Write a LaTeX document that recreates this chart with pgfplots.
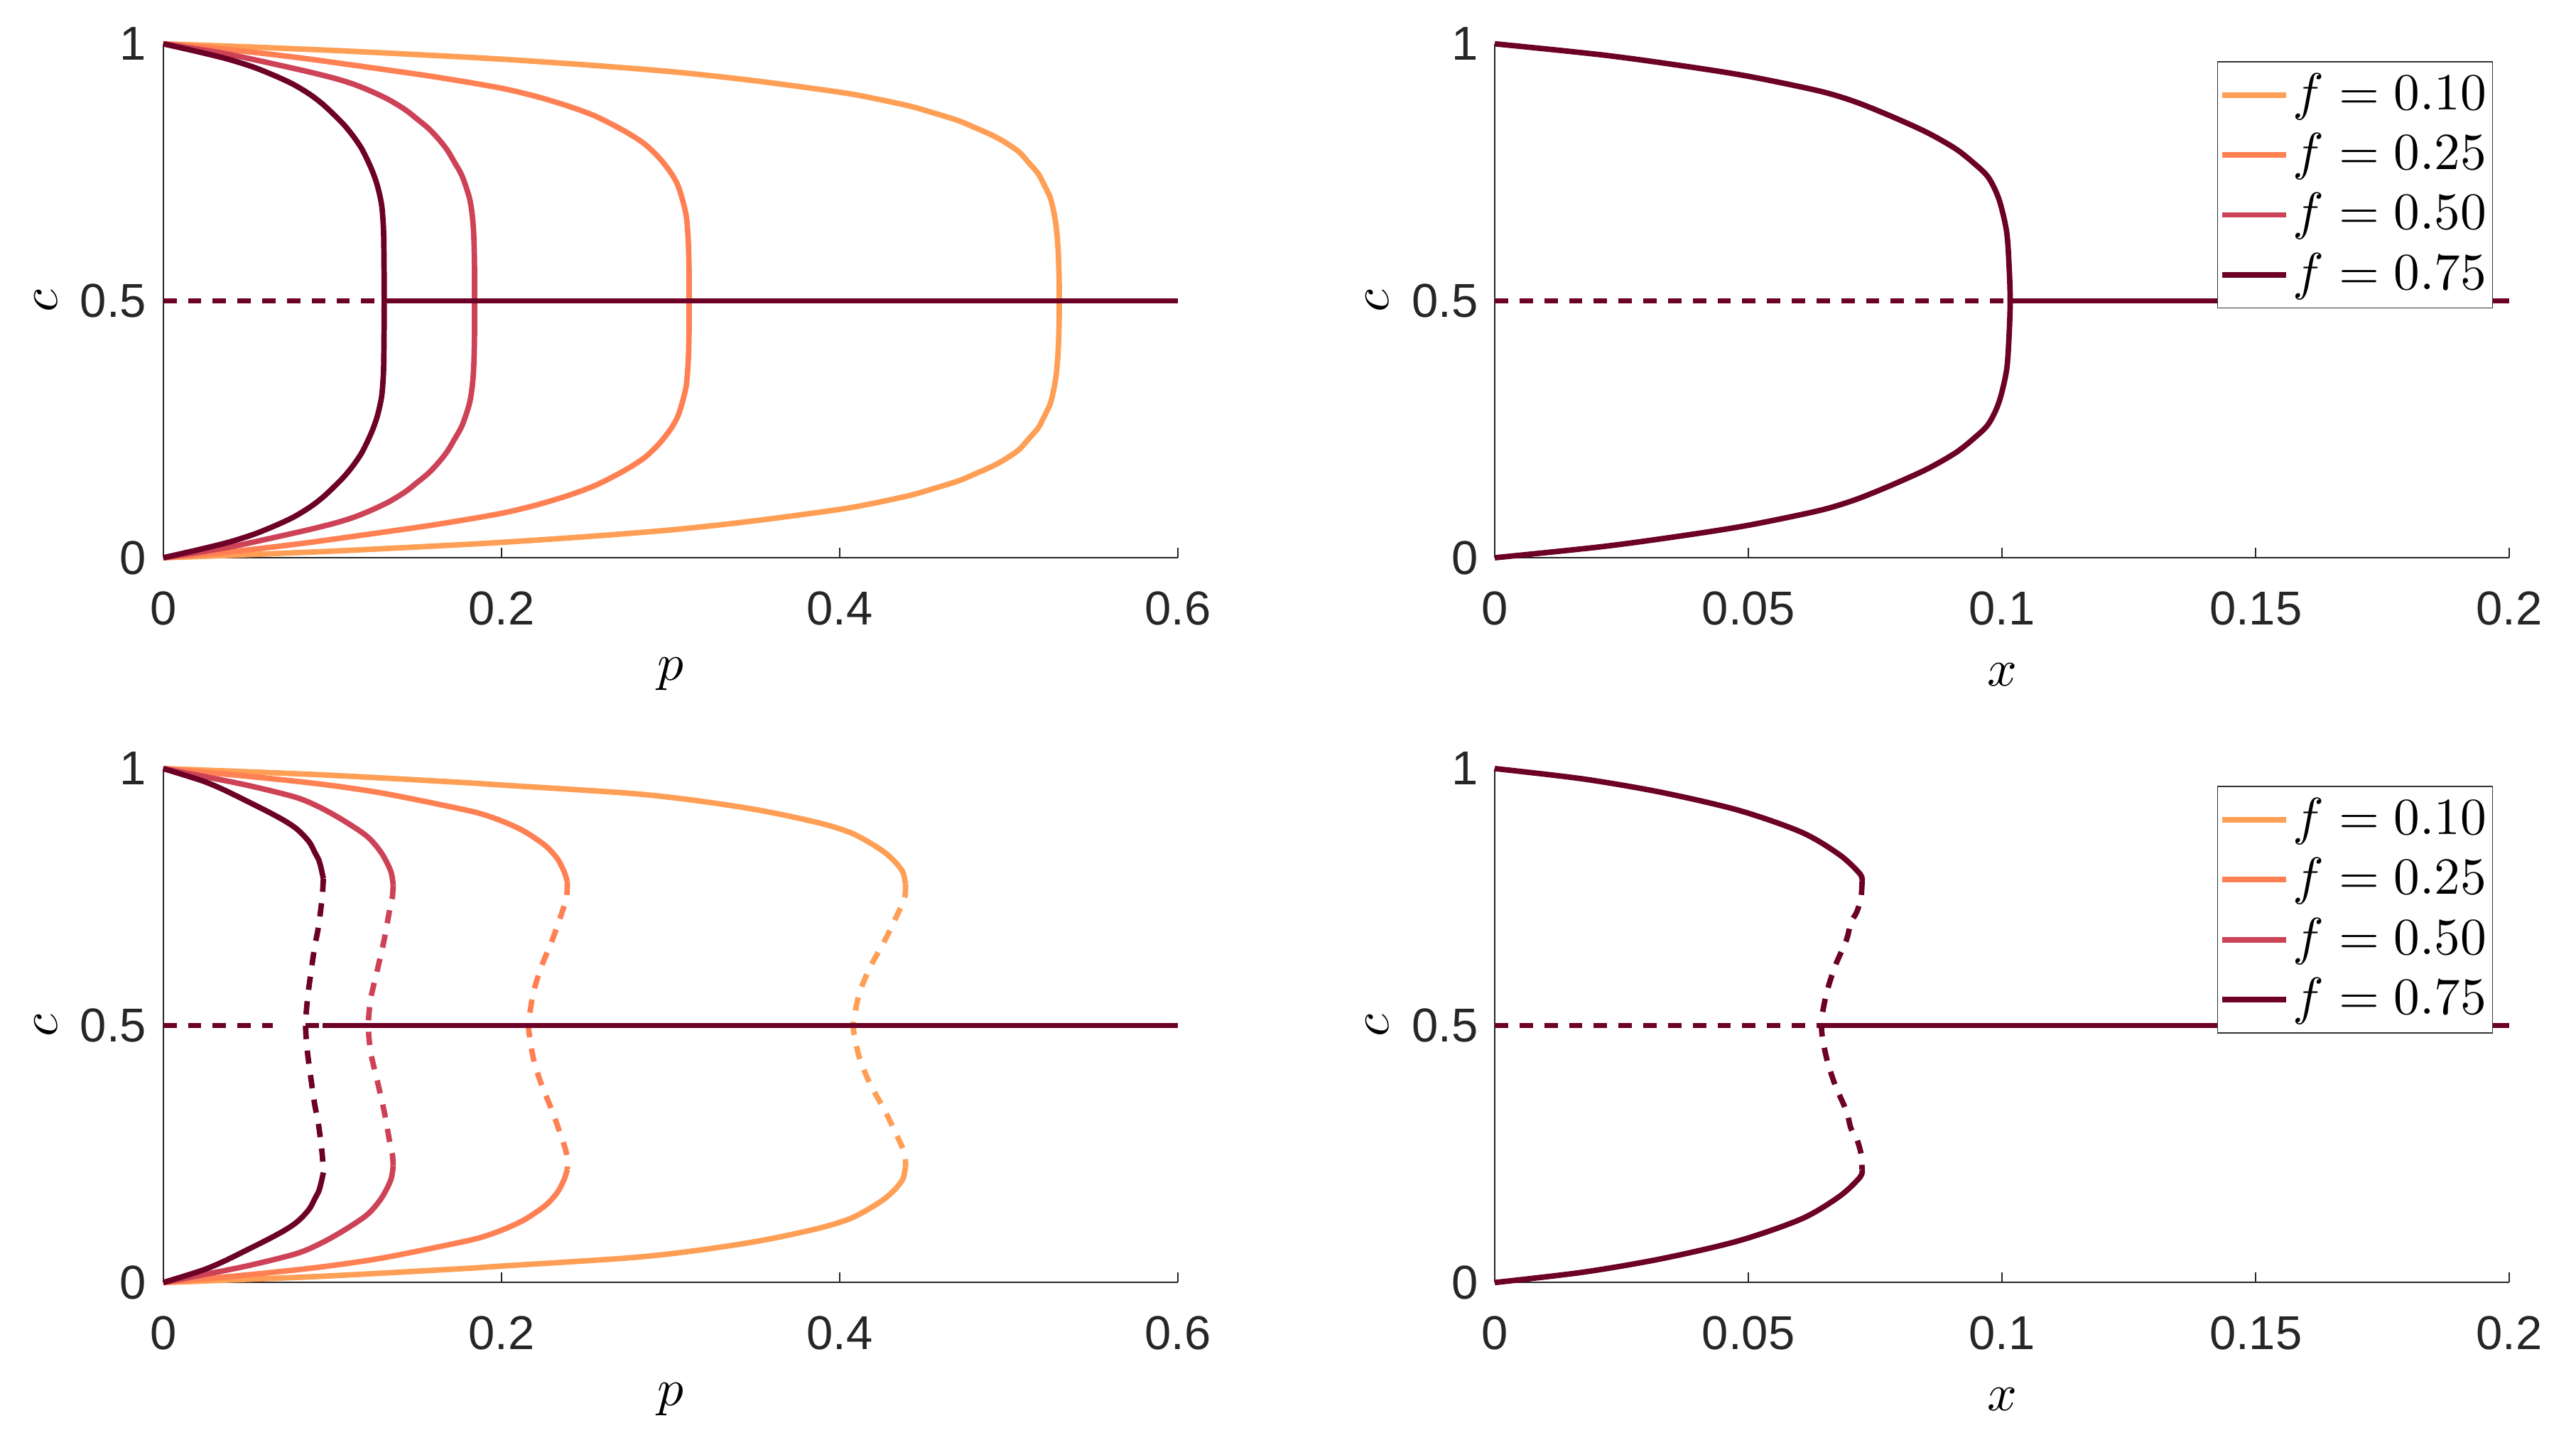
\documentclass[border=0pt]{standalone}
\usepackage{fontspec}
\setmainfont{Liberation Sans}
\usepackage{pgfplots}
\pgfplotsset{compat=1.18}

\definecolor{cA}{HTML}{FF9E55}
\definecolor{cB}{HTML}{FF8052}
\definecolor{cC}{HTML}{CD4257}
\definecolor{cD}{HTML}{6C0026}
\definecolor{axgray}{HTML}{262626}

\pgfplotsset{
  panel/.style={
    width=213.2pt, height=108pt, scale only axis,
    ymin=0, ymax=1, ytick={0,0.5,1}, yticklabels={0,0.5,1},
    axis lines=left, x axis line style={-}, y axis line style={-},
    axis line style={line width=0.25pt, draw=axgray},
    tick style={line width=0.25pt, draw=axgray},
    tick align=inside, major tick length=2.1pt,
    ticklabel style={font=\fontsize{10}{12}\selectfont, text=axgray},
    xticklabel style={yshift=-3.6pt},
    label style={font=\fontsize{11}{13}\selectfont},
    xlabel style={at={(axis description cs:0.5,-0.2269)}, anchor=center},
    ylabel style={at={(axis description cs:-0.1159,0.5)}, anchor=center},
    ylabel={$c$},
    clip=false,
    every axis plot/.append style={line width=1.15pt},
    legend style={at={(rel axis cs:0.984,0.966)}, anchor=north east,
      draw=black!80, line width=0.25pt, fill=white,
      font=\fontsize{10.7}{12.5}\selectfont,
      inner xsep=0.4pt, inner ysep=1.2pt, row sep=1.1pt,
      nodes={inner xsep=0.9pt, inner ysep=1.2pt}},
    legend cell align=left,
    legend image code/.code={\draw[#1] (0pt,0pt) -- (13.4pt,0pt);},
  },
  leftpanel/.style={panel, xmin=0, xmax=0.6, xtick={0,0.2,0.4,0.6},
    xticklabels={0,0.2,0.4,0.6}, xlabel={$p$}},
  rightpanel/.style={panel, xmin=0, xmax=0.2, xtick={0,0.05,0.1,0.15,0.2},
    xticklabels={0,0.05,0.1,0.15,0.2}, xlabel={$x$}},
  unstable/.style={dash pattern=on 2.8pt off 2.4pt},
  curve/.style={smooth, tension=0.5},
}

\begin{document}
\begin{tikzpicture}
\useasboundingbox (0,0) rectangle (541.3pt,303.5pt);

% ---- top left
\begin{axis}[leftpanel, at={(34.3pt,186.3pt)}, anchor=south west]
\addplot[cA, curve] coordinates {(0,1) (0.05,0.994) (0.101,0.987) (0.15,0.979) (0.198,0.9705) (0.25,0.959) (0.303,0.945) (0.35,0.928) (0.3997,0.906) (0.42,0.894) (0.4418,0.8785) (0.455,0.866) (0.4698,0.851) (0.48,0.837) (0.4909,0.821) (0.499,0.806) (0.5063,0.789) (0.512,0.768) (0.5175,0.747) (0.521,0.725) (0.5245,0.701) (0.5265,0.675) (0.528,0.646) (0.529,0.61) (0.5295,0.577) (0.5298,0.54) (0.5299,0.5)
 (0.5298,0.46) (0.5295,0.423) (0.529,0.39) (0.528,0.354) (0.5265,0.325) (0.5245,0.299) (0.521,0.275) (0.5175,0.253) (0.512,0.232) (0.5063,0.211) (0.499,0.194) (0.4909,0.179) (0.48,0.163) (0.4698,0.149) (0.455,0.134) (0.4418,0.1215) (0.42,0.106) (0.3997,0.094) (0.35,0.072) (0.303,0.055) (0.25,0.041) (0.198,0.0295) (0.15,0.021) (0.101,0.013) (0.05,0.006) (0,0)};
\addplot[cB, curve] coordinates {(0,1) (0.0379,0.989) (0.08,0.973) (0.122,0.954) (0.16,0.936) (0.1978,0.915) (0.22,0.898) (0.2398,0.8785) (0.255,0.86) (0.2679,0.839) (0.277,0.822) (0.2847,0.805) (0.291,0.786) (0.2959,0.768) (0.301,0.745) (0.3044,0.724) (0.3072,0.695) (0.3093,0.665) (0.3102,0.632) (0.3107,0.6) (0.311,0.55) (0.311,0.5)
 (0.311,0.45) (0.3107,0.4) (0.3102,0.368) (0.3093,0.335) (0.3072,0.305) (0.3044,0.276) (0.301,0.255) (0.2959,0.232) (0.291,0.214) (0.2847,0.195) (0.277,0.178) (0.2679,0.161) (0.255,0.14) (0.2398,0.1215) (0.22,0.102) (0.1978,0.085) (0.16,0.064) (0.122,0.046) (0.08,0.027) (0.0379,0.011) (0,0)};
\addplot[cC, curve] coordinates {(0,1) (0.0379,0.98) (0.08,0.95) (0.10,0.934) (0.112,0.922) (0.122,0.909) (0.133,0.892) (0.143,0.872) (0.150,0.854) (0.157,0.835) (0.163,0.814) (0.168,0.793) (0.1725,0.768) (0.1767,0.743) (0.181,0.701) (0.1828,0.665) (0.1837,0.623) (0.1841,0.56) (0.1841,0.5)
 (0.1841,0.44) (0.1837,0.377) (0.1828,0.335) (0.181,0.299) (0.1767,0.257) (0.1725,0.232) (0.168,0.207) (0.163,0.186) (0.157,0.165) (0.150,0.146) (0.143,0.128) (0.133,0.108) (0.122,0.091) (0.112,0.078) (0.10,0.066) (0.08,0.05) (0.0379,0.02) (0,0)};
\addplot[cD, curve] coordinates {(0,1) (0.02,0.985) (0.0379,0.9705) (0.053,0.955) (0.0659,0.938) (0.077,0.921) (0.087,0.901) (0.0945,0.882) (0.101,0.862) (0.107,0.842) (0.1122,0.821) (0.117,0.798) (0.1206,0.775) (0.1237,0.752) (0.1262,0.729) (0.128,0.706) (0.1293,0.683) (0.1301,0.65) (0.1304,0.623) (0.1306,0.56) (0.1307,0.5)
 (0.1306,0.44) (0.1304,0.377) (0.1301,0.35) (0.1293,0.317) (0.128,0.294) (0.1262,0.271) (0.1237,0.248) (0.1206,0.225) (0.117,0.202) (0.1122,0.179) (0.107,0.158) (0.101,0.138) (0.0945,0.118) (0.087,0.099) (0.077,0.079) (0.0659,0.062) (0.053,0.045) (0.0379,0.0295) (0.02,0.015) (0,0)};
\addplot[cD, unstable] coordinates {(0,0.5) (0.1307,0.5)};
\addplot[cD] coordinates {(0.1307,0.5) (0.6,0.5)};
\end{axis}

% ---- top right
\begin{axis}[rightpanel, at={(314.1pt,186.3pt)}, anchor=south west]
\addlegendimage{cA, line width=1.15pt}\addlegendentry{$f = 0.10$}
\addlegendimage{cB, line width=1.15pt}\addlegendentry{$f = 0.25$}
\addlegendimage{cC, line width=1.15pt}\addlegendentry{$f = 0.50$}
\addplot[cD, curve] coordinates {(0,1) (0.0206,0.979) (0.035,0.96) (0.0493,0.938) (0.0636,0.909) (0.0708,0.888) (0.0779,0.86) (0.0851,0.828) (0.0908,0.796) (0.0944,0.768) (0.0973,0.74) (0.0994,0.697) (0.1009,0.634) (0.1014,0.563) (0.1016,0.5)
 (0.1014,0.437) (0.1009,0.366) (0.0994,0.303) (0.0973,0.26) (0.0944,0.232) (0.0908,0.204) (0.0851,0.172) (0.0779,0.14) (0.0708,0.112) (0.0636,0.091) (0.0493,0.062) (0.035,0.04) (0.0206,0.021) (0,0)};
\addlegendentry{$f = 0.75$}
\addplot[cD, unstable, forget plot] coordinates {(0,0.5) (0.1016,0.5)};
\addplot[cD, forget plot] coordinates {(0.1016,0.5) (0.2,0.5)};
\end{axis}

% ---- bottom left
\begin{axis}[leftpanel, at={(34.3pt,34pt)}, anchor=south west]
\addplot[cA, curve] coordinates {(0,1) (0.0926,0.988) (0.1767,0.973) (0.2,0.968) (0.2735,0.9525) (0.31,0.94) (0.3436,0.924) (0.365,0.911) (0.3857,0.896) (0.397,0.886) (0.4067,0.875) (0.414,0.863) (0.4207,0.85) (0.427,0.836) (0.4319,0.8215) (0.435,0.81) (0.4376,0.797) (0.439,0.775)};
\addplot[cA, curve, unstable] coordinates {(0.439,0.775) (0.4385,0.75) (0.435,0.722) (0.4268,0.666) (0.4184,0.616) (0.4121,0.567) (0.409,0.524) (0.408,0.5) (0.409,0.476) (0.4121,0.433) (0.4184,0.384) (0.4268,0.334) (0.435,0.278) (0.4385,0.25) (0.439,0.225)};
\addplot[cA, curve] coordinates {(0.439,0.225) (0.4376,0.203) (0.435,0.19) (0.4319,0.1785) (0.427,0.164) (0.4207,0.15) (0.414,0.137) (0.4067,0.125) (0.397,0.114) (0.3857,0.104) (0.365,0.089) (0.3436,0.076) (0.31,0.06) (0.2735,0.0475) (0.2,0.032) (0.1767,0.027) (0.0926,0.012) (0,0)};
\addplot[cB, curve] coordinates {(0,1) (0.05,0.985) (0.0926,0.97) (0.13,0.952) (0.1767,0.921) (0.19,0.91) (0.2025,0.895) (0.214,0.877) (0.226,0.85) (0.233,0.825) (0.237,0.8) (0.239,0.78)};
\addplot[cB, curve, unstable] coordinates {(0.239,0.78) (0.2385,0.75) (0.236,0.722) (0.23,0.666) (0.2238,0.616) (0.2191,0.567) (0.2168,0.524) (0.216,0.5) (0.2168,0.476) (0.2191,0.433) (0.2238,0.384) (0.23,0.334) (0.236,0.278) (0.2385,0.25) (0.239,0.22)};
\addplot[cB, curve] coordinates {(0.239,0.22) (0.237,0.2) (0.233,0.175) (0.226,0.15) (0.214,0.123) (0.2025,0.105) (0.19,0.09) (0.1767,0.079) (0.13,0.048) (0.0926,0.03) (0.05,0.015) (0,0)};
\addplot[cC, curve] coordinates {(0,1) (0.025,0.984) (0.0505,0.967) (0.0785,0.944) (0.093,0.924) (0.1066,0.899) (0.1206,0.868) (0.129,0.836) (0.1346,0.8) (0.136,0.772)};
\addplot[cC, curve, unstable] coordinates {(0.136,0.772) (0.1355,0.75) (0.1341,0.729) (0.1306,0.666) (0.1262,0.602) (0.1227,0.552) (0.1213,0.5) (0.1227,0.448) (0.1262,0.398) (0.1306,0.334) (0.1341,0.271) (0.1355,0.25) (0.136,0.228)};
\addplot[cC, curve] coordinates {(0.136,0.228) (0.1346,0.2) (0.129,0.164) (0.1206,0.132) (0.1066,0.101) (0.093,0.076) (0.0785,0.056) (0.0505,0.033) (0.025,0.016) (0,0)};
\addplot[cD, curve] coordinates {(0,1) (0.0224,0.977) (0.035,0.96) (0.0505,0.935) (0.062,0.916) (0.0715,0.899) (0.078,0.885) (0.0827,0.871) (0.0868,0.855) (0.0898,0.836) (0.092,0.822) (0.0933,0.807) (0.0947,0.786)};
\addplot[cD, curve, unstable] coordinates {(0.0947,0.786) (0.094,0.75) (0.0919,0.694) (0.0895,0.652) (0.0873,0.602) (0.0853,0.552) (0.0842,0.5) (0.0853,0.448) (0.0873,0.398) (0.0895,0.348) (0.0919,0.306) (0.094,0.25) (0.0947,0.214)};
\addplot[cD, curve] coordinates {(0.0947,0.214) (0.0933,0.193) (0.092,0.178) (0.0898,0.164) (0.0868,0.145) (0.0827,0.129) (0.078,0.115) (0.0715,0.101) (0.062,0.084) (0.0505,0.065) (0.035,0.04) (0.0224,0.023) (0,0)};
\addplot[cD, unstable] coordinates {(0,0.5) (0.0648,0.5)};
\addplot[cD] coordinates {(0.0842,0.5) (0.0922,0.5)};
\addplot[cD] coordinates {(0.0943,0.5) (0.6,0.5)};
\end{axis}

% ---- bottom right
\begin{axis}[rightpanel, at={(314.1pt,34pt)}, anchor=south west]
\addlegendimage{cA, line width=1.15pt}\addlegendentry{$f = 0.10$}
\addlegendimage{cB, line width=1.15pt}\addlegendentry{$f = 0.25$}
\addlegendimage{cC, line width=1.15pt}\addlegendentry{$f = 0.50$}
\addplot[cD, curve] coordinates {(0,1) (0.0173,0.98) (0.0327,0.954) (0.048,0.919) (0.0605,0.876) (0.068,0.832) (0.072,0.795) (0.0724,0.78)};
\addlegendentry{$f = 0.75$}
\addplot[cD, curve, unstable, forget plot] coordinates {(0.0724,0.78) (0.0722,0.75) (0.0714,0.722) (0.0702,0.70) (0.0693,0.666) (0.0671,0.616) (0.0655,0.567) (0.0646,0.524) (0.0644,0.5) (0.0646,0.476) (0.0655,0.433) (0.0671,0.384) (0.0693,0.334) (0.0702,0.30) (0.0714,0.278) (0.0722,0.25) (0.0724,0.22)};
\addplot[cD, curve, forget plot] coordinates {(0.0724,0.22) (0.072,0.205) (0.068,0.168) (0.0605,0.124) (0.048,0.081) (0.0327,0.046) (0.0173,0.02) (0,0)};
\addplot[cD, unstable, forget plot] coordinates {(0,0.5) (0.0644,0.5)};
\addplot[cD, forget plot] coordinates {(0.0644,0.5) (0.2,0.5)};
\end{axis}
\end{tikzpicture}
\end{document}
